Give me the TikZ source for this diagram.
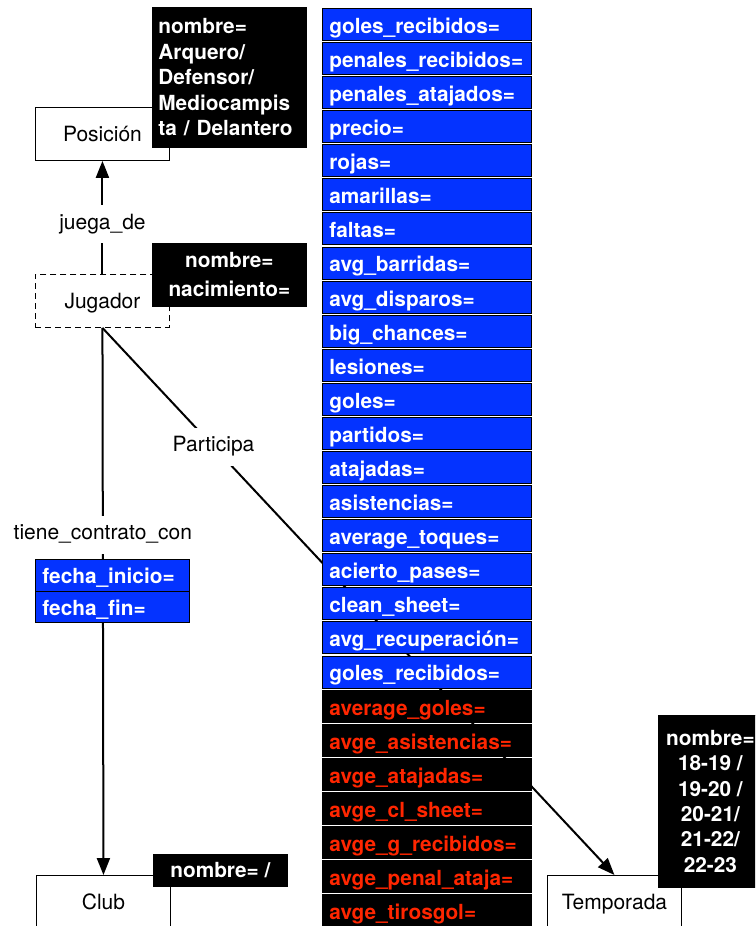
\documentclass[tikz,border=0pt]{standalone}
\usepackage{fontspec}
\setmainfont{TeX Gyre Heros}
\usetikzlibrary{arrows.meta,backgrounds}
\definecolor{attrblue}{RGB}{4,51,255}
\definecolor{attrred}{RGB}{255,38,0}
\tikzset{
  x=1pt, y=-1pt,
  txt/.style={font=\fontsize{21}{25.5}\selectfont},
  btxt/.style={font=\bfseries\fontsize{20.8}{25.5}\selectfont},
  entity/.style={txt, draw=black, line width=0.9pt, minimum width=134pt,
    minimum height=53pt, inner sep=0pt, text height=15pt, text depth=0pt,
    anchor=north west},
  infobox/.style={btxt, draw=black, line width=0.8pt, fill=black, text=white,
    anchor=north west, inner xsep=6pt},
  colrow/.style={btxt, draw=black, line width=0.8pt, anchor=north west,
    text width=195pt, inner xsep=7pt, inner ysep=4pt, text height=21pt,
    text depth=3pt, align=left},
  bluerow/.style={fill=attrblue, text=white},
  darkrow/.style={fill=black, text=attrred},
  conn/.style={line width=2pt, -{Triangle[length=17pt,width=13pt]}},
  lbl/.style={txt, fill=white, inner xsep=2pt, inner ysep=9.25pt,
    text height=15pt, text depth=4.5pt},
}
\begin{document}
\begin{tikzpicture}
\useasboundingbox (0,0) rectangle (755,926);
\clip (0,0) rectangle (755,926);

% entities
\node[entity] (pos) at (35,107) {Posición};
\node[entity, dashed, dash pattern=on 6pt off 4pt] (jug) at (35,274) {Jugador};
\node[entity] (club) at (36,875) {Club};
\node[entity] (temp) at (547,875) {Temporada};

% relationships
\begin{scope}[on background layer]
  \draw[conn] (jug.north) -- node[lbl, pos=0.44] (ljuega) {juega\_de} (pos.south);
  \draw[conn] (jug.south) -- node[lbl, pos=0.378] (ltiene) {tiene\_contrato\_con} (club.north);
  \draw[conn] (jug.south) -- node[lbl, pos=0.217] (lpart) {Participa} (temp.north);
\end{scope}

% entity attributes
\node[infobox, text width=142pt, align=left, minimum height=140pt] (posattr) at (152,7)
  {nombre=\\Arquero/\\Defensor/\\Mediocampis\\ta / Delantero};
\node[infobox, align=center, minimum width=154pt, minimum height=63pt,
  font=\bfseries\fontsize{20.8}{29}\selectfont] (jugattr) at (152,243)
  {nombre=\\nacimiento=};
\node[infobox, minimum width=134pt, minimum height=32pt, text height=15pt,
  text depth=0pt, inner ysep=0pt] (clubattr) at (153,854) {nombre= /};
\node[infobox, align=center, minimum width=104pt, minimum height=172pt,
  font=\bfseries\fontsize{20.8}{25.4}\selectfont] (tempattr) at (658,715)
  {nombre=\\18-19 /\\19-20 /\\20-21/\\21-22/\\22-23};

% contract attributes
\node[colrow, bluerow, text width=140pt, text height=20.5pt] (fini) at (35,559) {fecha\_inicio=};
\node[colrow, bluerow, text width=140pt, text height=20.5pt] (ffin) at (35,590.5) {fecha\_fin=};

% season statistics
\foreach \t [count=\i from 0] in {goles\_recibidos=, penales\_recibidos=,
  penales\_atajados=, precio=, rojas=, amarillas=, faltas=, avg\_barridas=,
  avg\_disparos=, big\_chances=, lesiones=, goles=, partidos=, atajadas=,
  asistencias=, average\_toques=, acierto\_pases=, clean\_sheet=,
  avg\_recuperación=, goles\_recibidos=}
  \node[colrow, bluerow] (s\i) at (322,{8+34.08*\i}) {\t};
\foreach \t [count=\i from 20] in {average\_goles=, avge\_asistencias=,
  avge\_atajadas=, avge\_cl\_sheet=, avge\_g\_recibidos=,
  avge\_penal\_ataja=, avge\_tirosgol=}
  \node[colrow, darkrow] (s\i) at (322,{8+34.08*\i}) {\t};
\end{tikzpicture}
\end{document}
